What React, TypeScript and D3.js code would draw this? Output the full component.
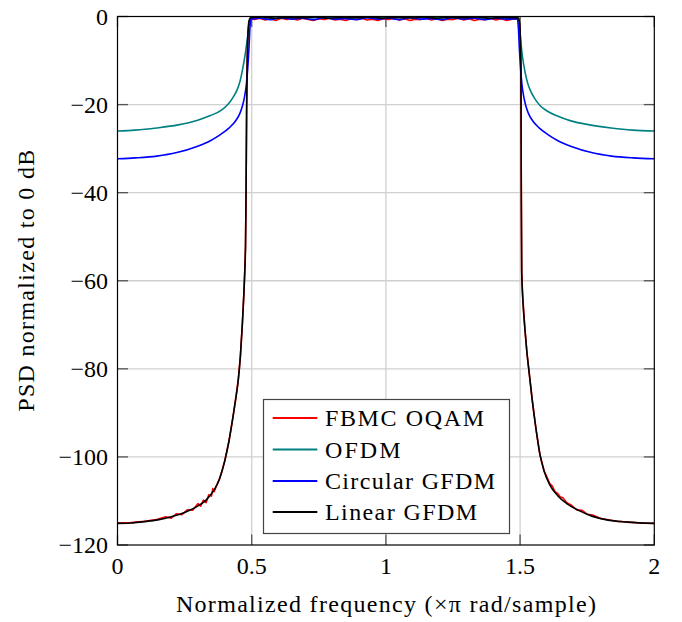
import React from "react";
import * as d3 from "d3";

// ---------- data ----------
const X_TICKS = [0, 0.5, 1, 1.5, 2];
const X_TICK_LABELS = ["0", "0.5", "1", "1.5", "2"];
const Y_TICKS = [0, -20, -40, -60, -80, -100, -120];
const Y_TICK_LABELS = ["0", "\u221220", "\u221240", "\u221260", "\u221280", "\u2212100", "\u2212120"];
const X_LABEL = "Normalized frequency (\u00d7\u03c0 rad/sample)";
const Y_LABEL = "PSD normalized to 0 dB";
const SERIES_NAMES = ["FBMC OQAM", "OFDM", "Circular GFDM", "Linear GFDM"];
const SERIES_COLORS = ["#ff0000", "#008080", "#0000ff", "#000000"];

// FBMC OQAM (noisy)
const FBMC: [number, number][] = [
  [0, -115.0], [0.05, -114.9], [0.1, -114.6], [0.14, -114.3], [0.18, -113.6], [0.2, -113.9],
  [0.22, -112.9], [0.24, -113.1], [0.26, -112.0], [0.28, -112.1], [0.3, -110.6], [0.31, -111.2],
  [0.32, -109.8], [0.33, -110.4], [0.34, -108.6], [0.35, -108.9], [0.355, -107.2], [0.36, -107.9],
  [0.37, -106.4], [0.38, -105.0], [0.39, -103.0], [0.4, -100.8], [0.415, -96.5], [0.43, -91.0],
  [0.44, -87.0], [0.45, -82.5], [0.458, -77], [0.465, -70], [0.47, -64], [0.4735, -59], [0.477, -52],
  [0.479, -40], [0.481, -22], [0.483, -11], [0.486, -4], [0.49, -1.2], [0.495, -0.5],
  [0.51, -0.7], [0.53, -0.4], [0.55, -0.8], [0.57, -0.5], [0.59, -0.9], [0.61, -0.4], [0.63, -0.7],
  [0.65, -0.5], [0.67, -0.8], [0.69, -0.4], [0.71, -0.7], [0.73, -0.9], [0.75, -0.5], [0.77, -0.7],
  [0.79, -0.4], [0.81, -0.8], [0.83, -0.6], [0.85, -0.9], [0.87, -0.5], [0.89, -0.7], [0.91, -0.4],
  [0.93, -0.8], [0.95, -0.6], [0.97, -0.9], [0.99, -0.5], [1.01, -0.7], [1.03, -0.4], [1.05, -0.8],
  [1.07, -0.5], [1.09, -0.9], [1.11, -0.6], [1.13, -0.7], [1.15, -0.4], [1.17, -0.8], [1.19, -0.5],
  [1.21, -0.9], [1.23, -0.6], [1.25, -0.7], [1.27, -0.4], [1.29, -0.8], [1.31, -0.5], [1.33, -0.9],
  [1.35, -0.6], [1.37, -0.7], [1.39, -0.4], [1.41, -0.8], [1.43, -0.5], [1.45, -0.9], [1.47, -0.6],
  [1.492, -0.5], [1.497, -1.2], [1.5, -3], [1.503, -11], [1.5045, -40], [1.506, -58], [1.51, -64],
  [1.518, -71], [1.525, -76], [1.534, -81], [1.545, -87], [1.56, -94], [1.574, -99.5], [1.59, -103.3],
  [1.6, -104.6], [1.61, -106.0], [1.62, -106.6], [1.63, -107.9], [1.64, -108.3], [1.65, -109.1],
  [1.66, -109.3], [1.674, -110.4], [1.69, -110.9], [1.71, -112.0], [1.73, -112.1], [1.75, -113.0],
  [1.77, -113.2], [1.8, -114.0], [1.823, -114.2], [1.86, -114.6], [1.9, -114.8], [1.95, -115.0],
  [2, -115.1],
];

// OFDM
const OFDM: [number, number][] = [
  [0, -26.0], [0.066, -25.8], [0.146, -25.3], [0.226, -24.6], [0.296, -23.6], [0.346, -22.5],
  [0.386, -21.3], [0.411, -20.0], [0.431, -18.3], [0.446, -16.6], [0.456, -14.8], [0.466, -12.0],
  [0.476, -8.5], [0.486, -4.0], [0.492, -1.5], [0.497, -0.4], [0.75, -0.3], [1.0, -0.3], [1.25, -0.3],
  [1.49, -0.4], [1.494, -1.5], [1.5, -4.3], [1.509, -9.2], [1.519, -12.8], [1.529, -15.3],
  [1.539, -16.9], [1.554, -18.6], [1.574, -20.2], [1.599, -21.4], [1.639, -22.6], [1.689, -23.7],
  [1.759, -24.6], [1.839, -25.3], [1.919, -25.8], [2, -26.0],
];

// Circular GFDM
const CGFDM: [number, number][] = [
  [0, -32.3], [0.066, -32.1], [0.146, -31.7], [0.221, -30.9], [0.296, -29.5], [0.346, -28.2],
  [0.386, -26.7], [0.416, -25.3], [0.441, -23.6], [0.456, -22.0], [0.466, -20.2], [0.474, -18.0],
  [0.48, -15.5], [0.485, -12.0], [0.49, -7.0], [0.493, -3.0], [0.497, -0.6],
  [0.53, -0.4], [0.57, -0.7], [0.61, -0.3], [0.65, -0.6], [0.69, -0.4], [0.73, -0.7],
  [0.77, -0.3], [0.81, -0.6], [0.85, -0.5], [0.89, -0.7], [0.93, -0.3], [0.97, -0.6], [1.01, -0.4],
  [1.05, -0.7], [1.09, -0.3], [1.13, -0.6], [1.17, -0.5], [1.21, -0.7], [1.25, -0.3], [1.29, -0.6],
  [1.33, -0.4], [1.37, -0.7], [1.41, -0.4], [1.45, -0.6], [1.49, -0.5],
  [1.494, -3.0], [1.497, -7.0], [1.502, -12.0], [1.507, -15.5], [1.513, -18.0], [1.521, -20.2],
  [1.531, -22.0], [1.546, -23.6], [1.571, -25.3], [1.601, -26.7], [1.641, -28.2], [1.691, -29.5],
  [1.766, -30.9], [1.841, -31.7], [1.921, -32.1], [2, -32.3],
];

// Linear GFDM
const LGFDM: [number, number][] = [
  [0, -115.1], [0.05, -115.0], [0.1, -114.7], [0.15, -114.3], [0.2, -113.6], [0.25, -112.6],
  [0.3, -111.1], [0.33, -109.8], [0.36, -107.5], [0.38, -105.0], [0.4, -100.8], [0.415, -96.5],
  [0.43, -91.0], [0.44, -87.0], [0.45, -82.5], [0.458, -77], [0.465, -70], [0.47, -64],
  [0.4735, -59], [0.477, -52], [0.479, -40], [0.481, -22], [0.483, -11], [0.486, -4], [0.49, -1],
  [0.495, -0.3], [0.54, -0.1], [0.59, -0.4], [0.64, -0.2], [0.69, -0.3], [0.74, -0.1], [0.79, -0.4],
  [0.84, -0.2], [0.89, -0.3], [0.94, -0.1], [0.99, -0.4], [1.04, -0.2], [1.09, -0.3], [1.14, -0.1],
  [1.19, -0.4], [1.24, -0.2], [1.29, -0.3], [1.34, -0.1], [1.39, -0.4], [1.44, -0.2], [1.492, -0.3],
  [1.497, -1], [1.5, -3], [1.503, -11], [1.5045, -40], [1.506, -58], [1.51, -64], [1.518, -71],
  [1.525, -76], [1.534, -81], [1.545, -87], [1.56, -94], [1.574, -99.5], [1.59, -103.3],
  [1.61, -106.3], [1.64, -108.8], [1.674, -110.6], [1.72, -112.2], [1.77, -113.5], [1.823, -114.3],
  [1.9, -114.8], [2, -115.1],
];

const SERIES = [FBMC, OFDM, CGFDM, LGFDM];

// ---------- layout ----------
const W = 682;
const H = 622;
const M = { left: 117.5, right: 654.3, top: 16.5, bottom: 545 };
const FONT = "Liberation Serif, DejaVu Serif, Noto Serif, Tinos, FreeSerif, Times New Roman, Times, serif";
const FS = 24;
const LEGEND_TEXT_WIDTHS = [159, 75.6, 170, 152];

export default function App() {
  const x = d3.scaleLinear().domain([0, 2]).range([M.left, M.right]);
  const y = d3.scaleLinear().domain([-120, 0]).range([M.bottom, M.top]);

  const smooth = d3
    .line<[number, number]>()
    .x((d) => x(d[0]))
    .y((d) => y(d[1]))
    .curve(d3.curveMonotoneX);
  const linear = d3
    .line<[number, number]>()
    .x((d) => x(d[0]))
    .y((d) => y(d[1]));

  const tickLen = 10.5;
  const tickColor = "#555";

  const legendX = 263.5;
  const legendY = 399.5;
  const legendW = 246;
  const legendH = 134;
  const rowY = [418, 449.5, 481, 512];
  const txt = { fontFamily: FONT, fontSize: FS };

  return (
    <svg width={W} height={H} style={{ position: "absolute", left: 0, top: 0, background: "#fff" }}>
      <rect x={0} y={0} width={W} height={H} fill="#fff" />
      <defs>
        <clipPath id="plotclip">
          <rect x={M.left} y={M.top - 2} width={M.right - M.left} height={M.bottom - M.top + 2} />
        </clipPath>
      </defs>

      {/* grid */}
      {X_TICKS.slice(1, -1).map((t) => (
        <line key={"gx" + t} x1={x(t)} x2={x(t)} y1={M.top} y2={M.bottom} stroke="#d0d0d0" strokeWidth={1.3} />
      ))}
      {Y_TICKS.slice(1, -1).map((t) => (
        <line key={"gy" + t} x1={M.left} x2={M.right} y1={y(t)} y2={y(t)} stroke="#d0d0d0" strokeWidth={1.3} />
      ))}

      {/* ticks (inward, all sides) */}
      {X_TICKS.map((t) => (
        <g key={"tx" + t}>
          <line x1={x(t)} x2={x(t)} y1={M.bottom} y2={M.bottom - tickLen} stroke={tickColor} strokeWidth={1.3} />
          <line x1={x(t)} x2={x(t)} y1={M.top} y2={M.top + tickLen} stroke={tickColor} strokeWidth={1.3} />
        </g>
      ))}
      {Y_TICKS.map((t) => (
        <g key={"ty" + t}>
          <line x1={M.left} x2={M.left + tickLen} y1={y(t)} y2={y(t)} stroke={tickColor} strokeWidth={1.3} />
          <line x1={M.right} x2={M.right - tickLen} y1={y(t)} y2={y(t)} stroke={tickColor} strokeWidth={1.3} />
        </g>
      ))}

      {/* series */}
      <g clipPath="url(#plotclip)">
        {SERIES.map((s, i) => (
          <path
            key={"s" + i}
            d={(i === 0 ? linear(s) : smooth(s)) || ""}
            fill="none"
            stroke={SERIES_COLORS[i]}
            strokeWidth={1.6}
            strokeLinejoin="round"
          />
        ))}
      </g>

      {/* frame */}
      <rect
        x={M.left}
        y={M.top}
        width={M.right - M.left}
        height={M.bottom - M.top}
        fill="none"
        stroke="#000"
        strokeWidth={1.2}
      />

      {/* tick labels */}
      {X_TICKS.map((t, i) => (
        <text key={"lx" + t} x={x(t)} y={574} textAnchor="middle" style={txt} fill="#000">
          {X_TICK_LABELS[i]}
        </text>
      ))}
      {Y_TICKS.map((t, i) => (
        <text key={"ly" + t} x={108} y={y(t) + 8} textAnchor="end" style={txt} fill="#000">
          {Y_TICK_LABELS[i]}
        </text>
      ))}

      {/* axis titles */}
      <text
        x={(M.left + M.right) / 2}
        y={612}
        textAnchor="middle"
        style={txt}
        fill="#000"
        textLength={420}
        lengthAdjust="spacing"
      >
        {X_LABEL}
      </text>
      <text
        transform={`translate(33.5, ${(M.top + M.bottom) / 2}) rotate(-90)`}
        textAnchor="middle"
        style={txt}
        fill="#000"
        textLength={262}
        lengthAdjust="spacing"
      >
        {Y_LABEL}
      </text>

      {/* legend */}
      <rect x={legendX} y={legendY} width={legendW} height={legendH} fill="#fff" stroke="#444" strokeWidth={1.2} />
      {SERIES_NAMES.map((n, i) => (
        <g key={"lg" + i}>
          <line x1={272.7} x2={317.3} y1={rowY[i]} y2={rowY[i]} stroke={SERIES_COLORS[i]} strokeWidth={2.2} />
          <text
            x={325}
            y={rowY[i] + 8}
            style={txt}
            fill="#000"
            textLength={LEGEND_TEXT_WIDTHS[i]}
            lengthAdjust="spacing"
          >
            {n}
          </text>
        </g>
      ))}
    </svg>
  );
}
